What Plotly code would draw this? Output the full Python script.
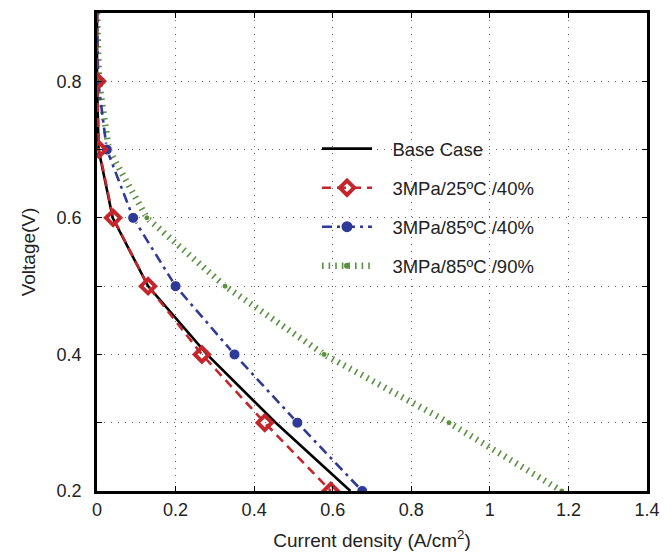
import plotly.graph_objects as go

# Polarisation curves: cell voltage vs current density
voltage = [0.9, 0.8, 0.7, 0.6, 0.5, 0.4, 0.3, 0.2]
base_case = [0.0, 0.0, 0.004, 0.04, 0.13, 0.28, 0.455, 0.645]
p3_t25_rh40 = [0.0, 0.0, 0.005, 0.041, 0.13, 0.267, 0.427, 0.595]
p3_t85_rh40 = [0.0, 0.003, 0.025, 0.092, 0.2, 0.35, 0.51, 0.675]
p3_t85_rh90 = [0.0, 0.005, 0.03, 0.127, 0.326, 0.578, 0.896, 1.183]

names = ["Base Case", "3MPa/25ºC /40%", "3MPa/85ºC /40%", "3MPa/85ºC /90%"]

x_ticks = [0, 0.2, 0.4, 0.6, 0.8, 1.0, 1.2, 1.4]
x_tick_text = ["0", "0.2", "0.4", "0.6", "0.8", "1", "1.2", "1.4"]
y_ticks = [0.2, 0.3, 0.4, 0.5, 0.6, 0.7, 0.8, 0.9]
y_tick_text = ["0.2", "", "0.4", "", "0.6", "", "0.8", ""]

RED = "#C4262B"
BLUE = "#2E3A96"
GREEN = "#5B9140"

styles = [
    dict(line=dict(color="black", width=2.6), mode="lines", marker=None),
    dict(line=dict(color=RED, width=2.6, dash="9px,6px"), mode="lines+markers",
         marker=dict(symbol="diamond-open", color=RED, size=11, opacity=1,
                     line=dict(width=4, color=RED))),
    dict(line=dict(color=BLUE, width=2.6, dash="10px,5px,3px,5px"), mode="lines+markers",
         marker=dict(symbol="circle", color=BLUE, size=11, opacity=1)),
    dict(line=dict(color=GREEN, width=6.5, dash="1.6px,5px"), mode="lines+markers",
         marker=dict(symbol="circle", color=GREEN, size=6, opacity=1)),
]
series = [base_case, p3_t25_rh40, p3_t85_rh40, p3_t85_rh90]
# index of the first point that carries a marker (0.9 V is a line end only)
marker_from = [None, 1, 2, 1]

fig = go.Figure()
draw_order = [3, 0, 2, 1]
for i in draw_order:
    st = styles[i]
    kw = dict(x=series[i], y=voltage, mode=st["mode"], line=st["line"],
              showlegend=False, hoverinfo="skip")
    if st["marker"] is not None:
        m = dict(st["marker"])
        m["size"] = [m["size"] if k >= marker_from[i] else 0 for k in range(len(voltage))]
        kw["marker"] = m
    fig.add_trace(go.Scatter(**kw))

# legend entries
pad = "\u00a0\u00a0\u00a0"
for i in range(4):
    st = styles[i]
    kw = dict(x=[None], y=[None], mode=st["mode"], line=st["line"], name=pad + names[i],
              legendgroup=f"g{i}", legendrank=i + 1)
    if st["marker"] is not None:
        kw["marker"] = st["marker"]
    fig.add_trace(go.Scatter(**kw))

axis_common = dict(
    showline=True, linecolor="black", linewidth=2.8, mirror="ticks",
    ticks="inside", ticklen=5, tickwidth=1.2, tickcolor="black",
    showgrid=True, gridcolor="#666666", gridwidth=1.3, griddash="1.4px,5.6px",
    zeroline=False, tickfont=dict(size=18, color="#222222"), automargin=False,
)

fig.update_xaxes(range=[0, 1.4], tickvals=x_ticks, ticktext=x_tick_text,
                 title=dict(text="Current density (A/cm<sup>2</sup>)",
                            font=dict(size=19, color="#222222"), standoff=16),
                 **axis_common)
fig.update_yaxes(range=[0.2, 0.9], tickvals=y_ticks, ticktext=y_tick_text,
                 ticklabelstandoff=9,
                 title=dict(text="Voltage(V)", font=dict(size=19, color="#222222"), standoff=16),
                 **axis_common)

fig.update_layout(
    width=672, height=553,
    margin=dict(l=97, r=25, t=13, b=62),
    paper_bgcolor="white", plot_bgcolor="white",
    font=dict(family="Liberation Sans, Arial, sans-serif", color="#222222"),
    legend=dict(x=0.4, y=0.755, xanchor="left", yanchor="top",
                bgcolor="rgba(0,0,0,0)", font=dict(size=18.5, color="#222222"),
                traceorder="grouped", tracegroupgap=12, itemwidth=50),
)

fig.write_html("out.html")
